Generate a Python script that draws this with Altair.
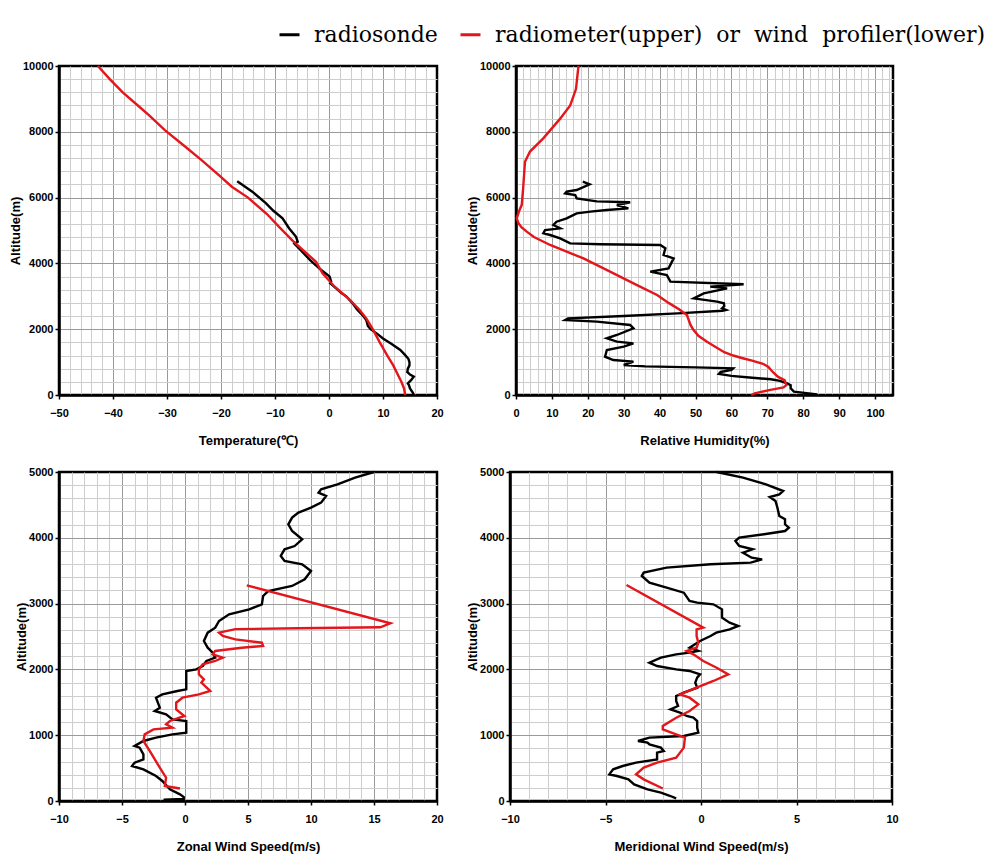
import altair as alt
import pandas as pd

SONDE = "radiosonde"
OTHER = "radiometer(upper)\u00a0 or\u00a0 wind\u00a0 profiler(lower)"
BLACK = "#000000"
RED = "#e3161c"
MAJ = "#9a9a9a"
MIN = "#cdcdcd"

# ---------------- Temperature ----------------
temp_sonde_alt = [0, 50, 200, 300, 350, 450, 560, 620, 700, 800, 900, 1000, 1100, 1250, 1370, 1550,
                  1720, 1850, 2000, 2100, 2280, 2430, 2600, 2800, 3000, 3100, 3300, 3400, 3450, 3600,
                  3850, 4100, 4450, 4600, 4660, 4810, 5070, 5370, 5600, 5830, 6180, 6500]
temp_sonde_val = [15.6, 15.6, 15.0, 14.8, 14.6, 15.2, 15.7, 15.0, 14.5, 14.6, 14.9, 14.9, 14.7, 13.9,
                  13.2, 11.6, 10.0, 9.0, 7.7, 7.2, 6.9, 6.2, 5.2, 4.3, 3.2, 2.3, 0.9, 0.2, 0.4, 0.1,
                  -1.8, -3.5, -5.5, -6.4, -5.8, -6.1, -7.4, -8.6, -10.3, -11.7, -14.2, -17.0]
temp_radio_alt = [0, 200, 400, 600, 900, 1200, 1600, 2000, 2330, 2600, 2900, 3300, 3700, 4050, 4400,
                  4700, 5100, 5500, 6000, 6330, 6700, 7140, 7600, 8050, 8500, 8800, 9200, 9600, 10000]
temp_radio_val = [14.1, 13.9, 13.4, 12.8, 11.9, 10.8, 9.4, 8.1, 6.9, 5.6, 3.8, 1.0, -1.2, -2.4, -4.8,
                  -6.8, -9.2, -11.5, -15.0, -18.0, -20.5, -23.6, -27.0, -30.4, -33.3, -35.4, -38.2,
                  -40.6, -42.8]

# ---------------- Relative humidity ----------------
rh_sonde_alt = [20, 101, 203, 300, 355, 430, 480, 530, 580, 640, 700, 760, 811, 840, 870, 912, 1013,
                1064, 1165, 1368, 1469, 1570, 1621, 1722, 1824, 2026, 2128, 2229, 2280, 2330, 2400,
                2480, 2560, 2584, 2634, 2700, 2786, 2837, 2938, 3090, 3242, 3293, 3364, 3445, 3647,
                3749, 3850, 4154, 4255, 4458, 4559, 4580, 4610, 4762, 4863, 4914, 5015, 5066, 5167,
                5268, 5370, 5522, 5572, 5623, 5674, 5775, 5860, 5885, 5978, 6079, 6130, 6180, 6231,
                6403, 6484]
rh_sonde_val = [83.9, 77.4, 76.5, 76.5, 75.5, 73.5, 71.0, 65.0, 60.0, 56.5, 57.0, 60.0, 60.5, 50.0,
                36.0, 30.0, 32.7, 27.1, 24.8, 25.3, 30.0, 32.7, 28.1, 25.3, 28.1, 32.7, 31.8, 22.5,
                13.7, 14.5, 30.0, 45.0, 57.5, 58.5, 57.4, 58.0, 57.9, 56.0, 49.5, 52.3, 58.8, 54.1,
                63.4, 43.0, 42.0, 37.4, 42.5, 43.9, 41.1, 41.6, 40.2, 23.4, 15.1, 12.3, 9.5, 7.6,
                8.1, 12.3, 10.4, 11.3, 14.1, 16.9, 20.7, 25.3, 31.3, 28.1, 31.8, 22.5, 16.9, 16.5,
                13.7, 14.1, 16.9, 20.5, 18.6]
rh_radio_alt = [0, 50, 150, 230, 300, 450, 550, 700, 850, 950, 1050, 1110, 1200, 1300, 1450, 1620,
                1800, 2000, 2130, 2430, 2600, 2800, 3040, 3340, 3750, 4150, 4560, 4800, 4965, 5100,
                5220, 5370, 5600, 5780, 6300, 7090, 7400, 7800, 8400, 8800, 9300, 10000]
rh_radio_val = [65.5, 66.5, 70.5, 74.5, 75.3, 74.8, 73.0, 71.5, 70.3, 68.8, 65.5, 63.4, 60.5, 58.0,
                55.7, 53.2, 50.8, 49.3, 48.6, 47.6, 45.5, 42.5, 39.3, 33.7, 26.2, 18.8, 9.5, 5.0,
                3.0, 1.5, 0.7, 0.2, 0.9, 1.6, 2.0, 2.5, 3.9, 7.6, 12.3, 15.1, 16.7, 17.4]

# ---------------- Zonal wind ----------------
u_sonde_alt = [20, 30, 60, 101, 177, 304, 380, 481, 532, 583, 633, 709, 811, 836, 912, 963, 1013,
               1039, 1216, 1241, 1317, 1368, 1418, 1570, 1621, 1672, 1697, 1976, 2001, 2052, 2128,
               2178, 2254, 2330, 2432, 2558, 2634, 2736, 2837, 2913, 2989, 3116, 3191, 3268, 3369,
               3495, 3597, 3647, 3723, 3825, 3875, 3977, 4103, 4205, 4306, 4382, 4458, 4534, 4635,
               4686, 4737, 4813, 4914, 5000]
u_sonde_val = [-1.7, -0.1, -0.1, -0.4, -1.2, -1.8, -2.3, -3.3, -4.2, -4.0, -3.3, -3.3, -3.6, -4.0,
               -3.3, -2.3, -1.0, 0.1, 0.1, -1.0, -1.5, -2.4, -2.0, -2.3, -1.8, -0.6, 0.1, 0.1, 0.9,
               1.4, 1.7, 2.4, 2.2, 1.8, 1.5, 1.8, 2.4, 2.7, 3.5, 5.1, 6.1, 6.2, 6.6, 8.5, 9.5, 10.0,
               9.3, 7.9, 7.6, 7.9, 8.7, 9.3, 8.5, 8.2, 8.5, 9.0, 10.0, 10.8, 11.2, 10.6, 10.8, 12.1,
               13.5, 15.0]
u_prof_alt = [190, 228, 355, 507, 760, 912, 1013, 1089, 1114, 1165, 1216, 1292, 1393, 1494, 1570,
              1621, 1672, 1798, 1849, 1925, 2001, 2077, 2128, 2178, 2229, 2280, 2330, 2356, 2406,
              2457, 2508, 2558, 2612, 2625, 2640, 2700, 3278]
u_prof_val = [-0.4, -1.6, -1.5, -2.0, -2.8, -3.3, -3.2, -2.5, -1.0, -1.5, -1.2, -0.05, -0.7, -0.7,
              -0.2, 1.1, 2.0, 1.3, 1.5, 1.1, 1.1, 1.4, 2.4, 3.0, 2.2, 2.4, 4.5, 6.2, 6.1, 4.0, 3.0,
              2.7, 4.0, 9.0, 15.5, 16.3, 4.9]

# ---------------- Meridional wind ----------------
v_sonde_alt = [41, 76, 127, 177, 253, 329, 380, 405, 481, 532, 583, 633, 735, 760, 811, 861, 887,
               912, 963, 988, 1039, 1114, 1216, 1266, 1292, 1342, 1393, 1444, 1520, 1596, 1646,
               1722, 1798, 1874, 1925, 1976, 2001, 2052, 2102, 2178, 2229, 2254, 2280, 2330, 2432,
               2508, 2558, 2609, 2660, 2710, 2786, 2913, 2989, 3014, 3040, 3166, 3242, 3318, 3420,
               3470, 3546, 3597, 3622, 3673, 3698, 3774, 3825, 3875, 3951, 4002, 4053, 4103, 4154,
               4205, 4281, 4331, 4458, 4559, 4620, 4661, 4711, 4813, 4914, 5000]
v_sonde_val = [-1.3, -1.6, -2.1, -2.8, -3.5, -3.8, -4.4, -4.8, -4.6, -4.1, -3.4, -2.3, -2.3, -1.95,
               -2.1, -2.7, -2.8, -3.3, -2.7, -0.9, -0.14, -0.2, -0.2, -0.4, -0.75, -1.1, -1.6, -1.2,
               -1.3, -1.3, -0.9, -0.2, -0.3, -0.2, -0.05, -0.6, -1.3, -2.3, -2.7, -2.1, -1.3, -0.6,
               -0.14, -0.6, -0.05, 0.5, 0.8, 1.5, 1.95, 1.5, 1.1, 1.1, 0.65, -0.2, -0.6, -0.9, -1.8,
               -2.7, -3.1, -3.0, -1.8, 0.5, 2.6, 3.2, 2.65, 2.2, 2.7, 2.0, 1.8, 2.0, 3.3, 4.4, 4.6,
               4.4, 4.4, 4.1, 4.0, 3.9, 3.6, 4.1, 4.3, 3.4, 2.2, 0.82]
v_prof_alt = [190, 329, 405, 507, 583, 659, 811, 963, 1013, 1089, 1140, 1266, 1368, 1469, 1570, 1621,
              1722, 1824, 1925, 2026, 2128, 2229, 2280, 2330, 2406, 2508, 2609, 2634, 3283]
v_prof_val = [-2.0, -3.0, -3.4, -3.0, -2.3, -1.3, -0.9, -0.84, -1.3, -2.0, -2.0, -1.3, -0.6, -0.14,
              -0.6, -1.1, -0.23, 0.65, 1.43, 0.82, 0.12, -0.4, -0.75, -0.23, -0.14, -0.23, -0.23,
              0.12, -3.9]

color_scale = alt.Scale(domain=[SONDE, OTHER], range=[BLACK, RED])


def axis(vals, major, lo, hi, title, is_x):
    test_major = f"datum.value % {major} === 0"
    test_edge = f"datum.value === {lo} || datum.value === {hi}"
    common = dict(
        values=vals,
        title=title,
        grid=True,
        gridColor={"condition": {"test": test_major, "value": MAJ}, "value": MIN},
        gridOpacity={"condition": {"test": test_edge, "value": 0}, "value": 1},
        tickOpacity={"condition": {"test": test_major, "value": 1}, "value": 0},
        labelExpr=f"{test_major} ? datum.label : ''",
        labelOverlap=False,
        format="d",
    )
    if is_x:
        return alt.Axis(labelFlush=False, labelPadding=8, titlePadding=16, titleFontSize=13, **common)
    return alt.Axis(labelPadding=2, titlePadding=0, titleFontSize=13, **common)


def panel(b_alt, b_val, r_alt, r_val, xdom, xminor, xmajor, ydom, yminor, ymajor, xtitle, width, height):
    df = pd.DataFrame({
        "alt": b_alt + r_alt,
        "val": b_val + r_val,
        "series": [SONDE] * len(b_alt) + [OTHER] * len(r_alt),
        "i": list(range(len(b_alt))) + list(range(len(r_alt))),
    })
    xvals = list(range(xdom[0], xdom[1] + 1, xminor))
    yvals = list(range(ydom[0], ydom[1] + 1, yminor))
    return alt.Chart(df).mark_line(strokeWidth=2.4).encode(
        x=alt.X("val:Q", scale=alt.Scale(domain=xdom, nice=False, zero=False),
                axis=axis(xvals, xmajor, xdom[0], xdom[1], xtitle, True)),
        y=alt.Y("alt:Q", scale=alt.Scale(domain=ydom, nice=False, zero=False),
                axis=axis(yvals, ymajor, ydom[0], ydom[1], "Altitude(m)", False)),
        color=alt.Color("series:N", scale=color_scale, legend=alt.Legend(title=None)),
        order=alt.Order("i:Q"),
    ).properties(width=width, height=height)


p1 = panel(temp_sonde_alt, temp_sonde_val, temp_radio_alt, temp_radio_val,
           [-50, 20], 2, 10, [0, 10000], 400, 2000, "Temperature(\u2103)", 378, 329)
p2 = panel(rh_sonde_alt, rh_sonde_val, rh_radio_alt, rh_radio_val,
           [0, 105], 2, 10, [0, 10000], 400, 2000, "Relative Humidity(%)", 377, 329)
p3 = panel(u_sonde_alt, u_sonde_val, u_prof_alt, u_prof_val,
           [-10, 20], 1, 5, [0, 5000], 200, 1000, "Zonal Wind Speed(m/s)", 378, 329)
p4 = panel(v_sonde_alt, v_sonde_val, v_prof_alt, v_prof_val,
           [-10, 10], 1, 5, [0, 5000], 200, 1000, "Meridional Wind Speed(m/s)", 382, 329)

row1 = alt.hconcat(p1, p2, spacing=20)
row2 = alt.hconcat(p3, p4, spacing=20)

chart = alt.vconcat(row1, row2, spacing=15).resolve_scale(color="shared").properties(
    padding={"left": 0, "top": 15, "right": 0, "bottom": 0}
).configure_view(
    stroke="black", strokeWidth=2.5
).configure_axis(
    domainColor="black", domainWidth=2.5, tickColor="black", tickWidth=1.5, tickSize=4,
    labelFont="Liberation Sans", labelFontSize=11, labelFontWeight="bold", labelColor="black",
    titleFont="Liberation Sans", titleFontWeight="bold", titleColor="black", gridWidth=1,
).configure_legend(
    orient="none", legendX=219, legendY=-43, direction="horizontal", offset=0,
    symbolType="stroke", symbolSize=400, symbolStrokeWidth=3,
    labelFont="DejaVu Serif", labelFontSize=22, labelColor="black", labelLimit=900,
    labelOffset=13, columnPadding=16, padding=0,
)

chart.save("out.html", embed_options={"renderer": "svg", "actions": False})
